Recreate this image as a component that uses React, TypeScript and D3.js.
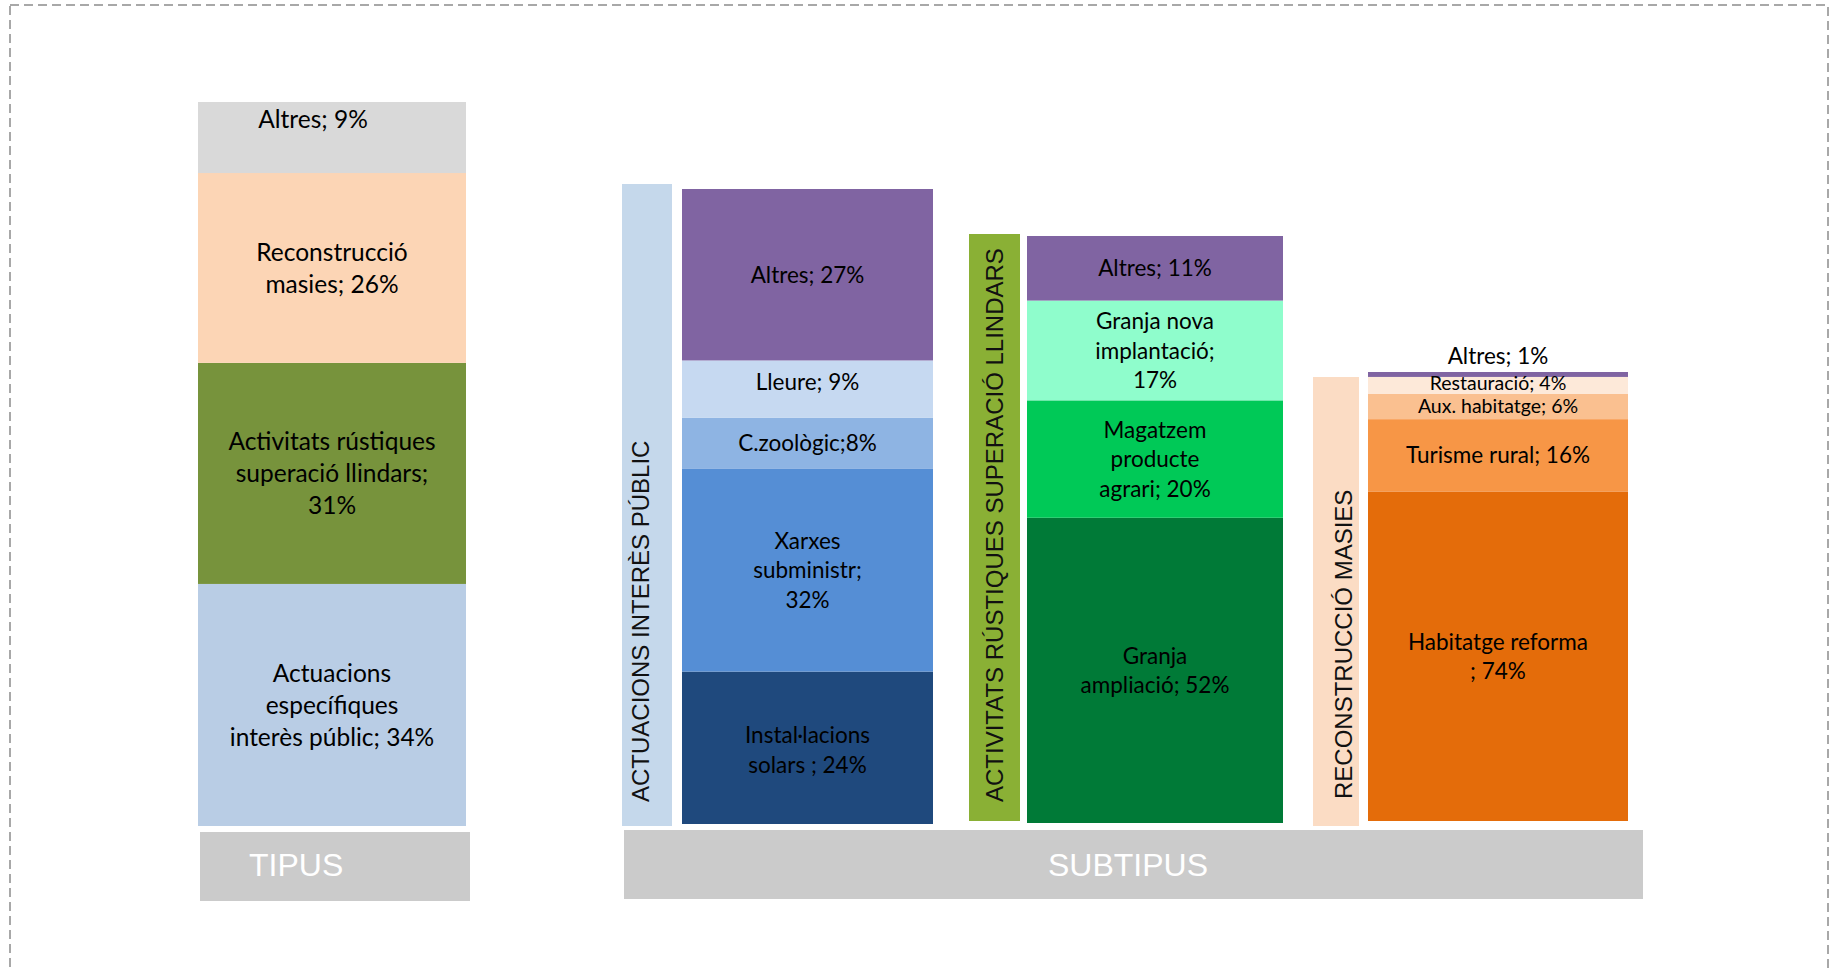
import React from "react";
import * as d3 from "d3";

// ---------- DATA ----------
// TIPUS (bottom to top)
const tipusValues = [33.4, 30.5, 26.2, 9.8];
const tipusLabels = [
  ["Actuacions", "específiques", "interès públic; 34%"],
  ["Activitats rústiques", "superació llindars;", "31%"],
  ["Reconstrucció", "masies; 26%"],
  ["Altres; 9%"],
];
const tipusColors = ["#B9CDE5", "#77933C", "#FCD5B5", "#D9D9D9"];

// SUBTIPUS – Actuacions interès públic (bottom to top)
const aipValues = [24, 32, 8, 9, 27];
const aipLabels = [
  ["Instal·lacions", "solars ; 24%"],
  ["Xarxes", "subministr;", "32%"],
  ["C.zoològic;8%"],
  ["Lleure; 9%"],
  ["Altres; 27%"],
];
const aipColors = ["#1F497D", "#558ED5", "#8EB4E3", "#C6D9F1", "#8064A2"];

// SUBTIPUS – Activitats rústiques superació llindars
const arsValues = [52, 20, 17, 11];
const arsLabels = [
  ["Granja", "ampliació; 52%"],
  ["Magatzem", "producte", "agrari; 20%"],
  ["Granja nova", "implantació;", "17%"],
  ["Altres; 11%"],
];
const arsColors = ["#007A37", "#00C957", "#8FFDCC", "#8064A2"];

// SUBTIPUS – Reconstrucció masies
const rmValues = [73.4, 16.1, 5.6, 3.8, 1.1];
const rmLabels = [
  ["Habitatge reforma", "; 74%"],
  ["Turisme rural; 16%"],
  ["Aux. habitatge; 6%"],
  ["Restauració; 4%"],
  ["Altres; 1%"],
];
const rmColors = ["#E46C0A", "#F79646", "#FAC090", "#FDE9D9", "#8064A2"];

const groupTitles = ["ACTUACIONS INTERÈS PÚBLIC", "ACTIVITATS RÚSTIQUES SUPERACIÓ LLINDARS", "RECONSTRUCCIÓ MASIES"];
const axisTitles = ["TIPUS", "SUBTIPUS"];

// ---------- LAYOUT ----------
const W = 1836;
const H = 971;
const LABEL_FONT = "Lato, 'Open Sans', sans-serif";
const TITLE_FONT = "'Liberation Sans', Arial, sans-serif";

type Col = {
  values: number[];
  labels: string[][];
  colors: string[];
  x0: number;
  x1: number;
  top: number;
  bottom: number;
  fontSize: number;
  lineH: number;
  fontSizes?: number[];
  dys?: number[];
  dxs?: number[];
  above?: boolean[];
  atTop?: boolean[];
};

const columns: Col[] = [
  { values: tipusValues, labels: tipusLabels, colors: tipusColors, x0: 198, x1: 466, top: 102, bottom: 826, fontSize: 24.5, lineH: 32, dxs: [0, 0, 0, -19], atTop: [false, false, false, true] },
  { values: aipValues, labels: aipLabels, colors: aipColors, x0: 682, x1: 933, top: 189, bottom: 824, fontSize: 22.5, lineH: 29.5, dys: [2, 0, 0, -7, 0] },
  { values: arsValues, labels: arsLabels, colors: arsColors, x0: 1027, x1: 1283, top: 236, bottom: 823, fontSize: 22.5, lineH: 29.5 },
  { values: rmValues, labels: rmLabels, colors: rmColors, x0: 1368, x1: 1628, top: 372, bottom: 821, fontSize: 22.5, lineH: 29.5, fontSizes: [22.5, 22.5, 19.5, 19.5, 22.5], dys: [0, 0, -1, -2, 0], above: [false, false, false, false, true] },
];

const sideBars = [
  { x0: 622, x1: 672, top: 184, bottom: 826, color: "#C5D8EB", textX: 649, textY: 802 },
  { x0: 969, x1: 1020, top: 234, bottom: 821, color: "#8AB035", textX: 1003, textY: 802 },
  { x0: 1313, x1: 1359, top: 377, bottom: 826, color: "#FBDCC4", textX: 1352, textY: 799 },
];

const footBoxes = [
  { x0: 200, x1: 470, top: 832, bottom: 901, textX: 249, anchor: "start" },
  { x0: 624, x1: 1643, top: 830, bottom: 899, textX: 1128, anchor: "middle" },
];

function Column({ c }: { c: Col }) {
  const total = d3.sum(c.values);
  const y = d3.scaleLinear().domain([0, total]).range([c.bottom, c.top]);
  const stackData = [Object.fromEntries(c.values.map((v, i) => [String(i), v]))];
  const keys = c.values.map((_, i) => String(i));
  const series = d3.stack<any>().keys(keys)(stackData);
  const cx = (c.x0 + c.x1) / 2;
  return (
    <g>
      {series.map((s, i) => {
        const [a, b] = s[0];
        return (
          <rect key={"r" + i} x={c.x0} width={c.x1 - c.x0} y={y(b)} height={y(a) - y(b)} fill={c.colors[i]} />
        );
      })}
      {series.map((s, i) => {
        const [a, b] = s[0];
        const lines = c.labels[i];
        const fs = c.fontSizes ? c.fontSizes[i] : c.fontSize;
        const lh = c.lineH;
        const n = lines.length;
        let center = (y(a) + y(b)) / 2;
        if (c.above && c.above[i]) center = y(b) - 16;
        if (c.atTop && c.atTop[i]) center = y(b) + 17;
        center += c.dys ? c.dys[i] : 0;
        const x = cx + (c.dxs ? c.dxs[i] : 0);
        return (
          <text key={"t" + i} fontFamily={LABEL_FONT} fontSize={fs} fill="#000" textAnchor="middle">
            {lines.map((ln, j) => (
              <tspan key={j} x={x} y={center + (j - (n - 1) / 2) * lh + fs * 0.36}>
                {ln}
              </tspan>
            ))}
          </text>
        );
      })}
    </g>
  );
}

export default function App() {
  return (
    <svg width={W} height={H} style={{ position: "absolute", left: 0, top: 0, background: "#fff" }}>
      <rect x={10} y={5} width={1818} height={980} fill="none" stroke="#8C8C8C" strokeWidth={1.5} strokeDasharray="9 5" />
      {columns.map((c, i) => (
        <Column key={i} c={c} />
      ))}
      {sideBars.map((s, i) => (
        <g key={"s" + i}>
          <rect x={s.x0} y={s.top} width={s.x1 - s.x0} height={s.bottom - s.top} fill={s.color} />
          <text
            transform={`translate(${s.textX},${s.textY}) rotate(-90)`}
            fontFamily={TITLE_FONT}
            fontSize={24}
            fill="#111"
            textAnchor="start"
          >
            {groupTitles[i]}
          </text>
        </g>
      ))}
      {footBoxes.map((b, i) => (
        <g key={"f" + i}>
          <rect x={b.x0} y={b.top} width={b.x1 - b.x0} height={b.bottom - b.top} fill="#CBCBCB" />
          <text x={b.textX} y={876} fontFamily={TITLE_FONT} fontSize={32} fill="#fff" textAnchor={b.anchor as any}>
            {axisTitles[i]}
          </text>
        </g>
      ))}
    </svg>
  );
}
